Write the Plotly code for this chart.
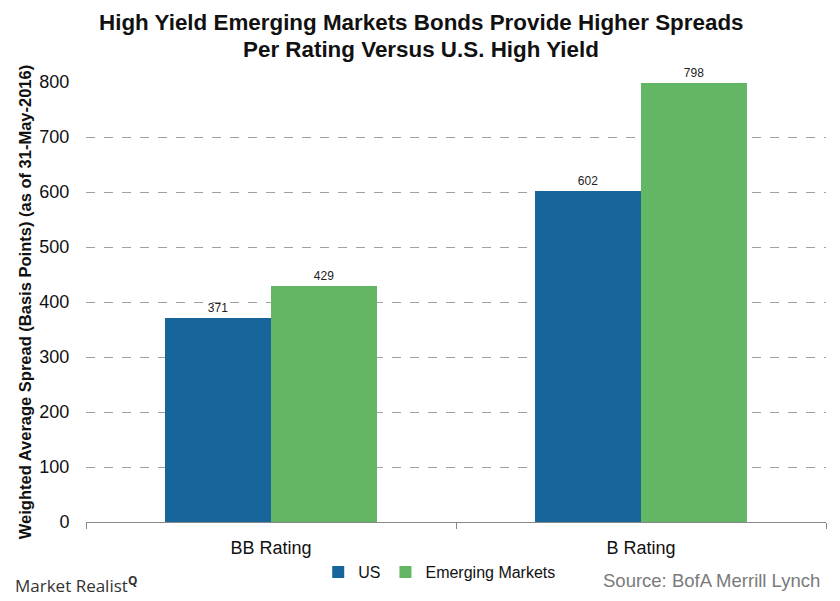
import plotly.graph_objects as go

categories = ["BB Rating", "B Rating"]
us_values = [371, 602]
em_values = [429, 798]
series_names = ["US", "Emerging Markets"]
y_ticks = [0, 100, 200, 300, 400, 500, 600, 700, 800]

FONT = "Liberation Sans, Arial, sans-serif"

fig = go.Figure()
fig.add_trace(go.Bar(
    x=categories, y=us_values, name=series_names[0],
    marker=dict(color="#17659a", line=dict(width=0)),
    text=[str(v) for v in us_values], textposition="outside",
    textfont=dict(size=12, color="#222222", family=FONT),
    cliponaxis=False,
))
fig.add_trace(go.Bar(
    x=categories, y=em_values, name=series_names[1],
    marker=dict(color="#63b663", line=dict(width=0)),
    text=[str(v) for v in em_values], textposition="outside",
    textfont=dict(size=12, color="#222222", family=FONT),
    cliponaxis=False,
))

fig.update_layout(
    width=840, height=601,
    margin=dict(l=86, r=14, t=82, b=77),
    paper_bgcolor="white", plot_bgcolor="white",
    barmode="group", bargap=0.427, bargroupgap=0,
    font=dict(family=FONT, color="#111111"),
    yaxis=dict(
        range=[0, 800], tickvals=y_ticks,
        tickfont=dict(size=18, family=FONT, color="#111111"),
        showgrid=True, gridcolor="#a0a0a0", griddash="dash", gridwidth=1,
        zeroline=False, showline=False,
        ticks="outside", ticklen=12, tickcolor="rgba(0,0,0,0)",
        title=dict(
            text="<b>Weighted Average Spread (Basis Points) (as of 31-May-2016)</b>",
            font=dict(size=16.5, family=FONT, color="#111111"), standoff=3,
        ),
    ),
    xaxis=dict(
        tickfont=dict(size=18, family=FONT, color="#111111"),
        ticklabelstandoff=9,
        showline=True, linecolor="#888888", linewidth=1,
        ticks="outside", ticklen=6, tickcolor="#888888",
        tickson="boundaries",
    ),
    legend=dict(
        orientation="h", x=0.478, xanchor="center", y=-0.075, yanchor="top",
        font=dict(size=16, family=FONT, color="#111111"),
        itemwidth=30, tracegroupgap=0,
    ),
    showlegend=True,
)

fig.add_annotation(
    text="<b>High Yield Emerging Markets Bonds Provide Higher Spreads</b>",
    xref="paper", yref="paper", x=0.5, y=1.0, yshift=60,
    xanchor="center", yanchor="middle", showarrow=False,
    xshift=-35,
    font=dict(size=22.4, family=FONT, color="#111111"),
)
fig.add_annotation(
    text="<b>Per Rating Versus U.S. High Yield</b>",
    xref="paper", yref="paper", x=0.5, y=1.0, yshift=33,
    xanchor="center", yanchor="middle", showarrow=False,
    xshift=-35,
    font=dict(size=22.4, family=FONT, color="#111111"),
)
fig.add_annotation(
    text="Market Realist<sup><b>Q</b></sup>", xref="paper", yref="paper",
    x=-0.099, y=-0.108, xanchor="left", yanchor="top", showarrow=False,
    font=dict(size=17, family="Open Sans, sans-serif", color="#333333"),
)
fig.add_annotation(
    text="Source: BofA Merrill Lynch", xref="paper", yref="paper",
    x=0.994, y=-0.105, xanchor="right", yanchor="top", showarrow=False,
    font=dict(size=18.5, family=FONT, color="#7a7a7a"),
)

fig.write_html(
    "out.html",
    config={"displayModeBar": False},
    post_script="document.body.style.margin='0px';document.body.style.overflow='hidden';",
)
